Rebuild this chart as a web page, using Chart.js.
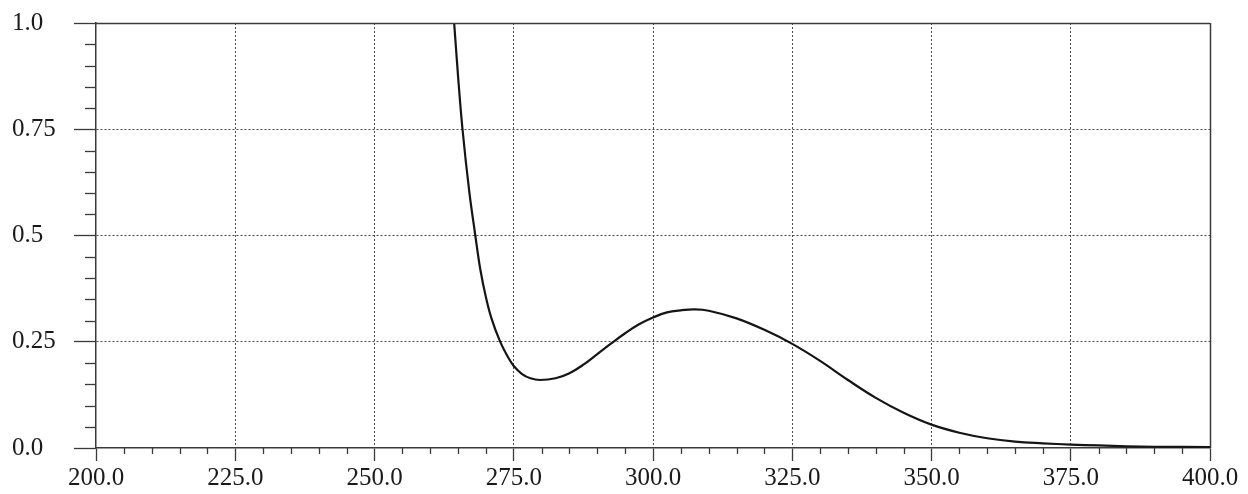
<!DOCTYPE html>
<html>
<head>
<meta charset="utf-8">
<script src="https://cdn.jsdelivr.net/npm/chart.js@4.4.1/dist/chart.umd.min.js"></script>
<style>
  html, body { margin: 0; padding: 0; background: #ffffff; }
  #wrap { width: 1248px; height: 494px; position: relative; }
</style>
</head>
<body>
<div id="wrap"><canvas id="c" width="1248" height="494"></canvas></div>
<script>
// Wavelength (nm) and absorbance
const wavelengths = [264.0, 264.3, 265.0, 265.8, 267.0, 268.1, 269.0, 270.0, 271.0, 272.5, 274.0, 275.0, 276.5, 278.0, 279.7, 282.5, 285.0, 287.5, 290.0, 292.5, 295.0, 297.5, 300.0, 302.5, 305.0, 307.5, 310.0, 315.0, 320.0, 325.0, 330.0, 335.0, 340.0, 345.0, 350.0, 355.0, 360.0, 365.0, 370.0, 375.0, 380.0, 385.0, 390.0, 400.0];
const absorbance  = [1.045, 1.00, 0.875, 0.75, 0.605, 0.50, 0.42, 0.355, 0.305, 0.252, 0.213, 0.193, 0.174, 0.164, 0.160, 0.164, 0.176, 0.196, 0.221, 0.246, 0.270, 0.291, 0.307, 0.319, 0.324, 0.326, 0.323, 0.305, 0.278, 0.245, 0.205, 0.160, 0.118, 0.083, 0.055, 0.036, 0.023, 0.015, 0.011, 0.008, 0.006, 0.004, 0.003, 0.002];

// Axis ticks
const xMajorValues = [200, 225, 250, 275, 300, 325, 350, 375, 400];
const xMajorLabels = ['200.0', '225.0', '250.0', '275.0', '300.0', '325.0', '350.0', '375.0', '400.0'];
const xMinorStep = 5;
const yMajorValues = [0, 0.25, 0.5, 0.75, 1.0];
const yMajorLabels = ['0.0', '0.25', '0.5', '0.75', '1.0'];
const yMinorStep = 0.05;

const xMin = 200, xMax = 400, yMin = 0, yMax = 1.0;

const FONT = { family: "'Liberation Serif', 'DejaVu Serif', serif", size: 25 };
const AXIS_COLOR = '#3a3a3a';
const GRID_COLOR = '#4a4a4a';

function near(a, b) { return Math.abs(a - b) < 1e-6; }
function isXMajor(v) { return xMajorValues.some(m => near(m, v)); }
function isYMajor(v) { return yMajorValues.some(m => near(m, v)); }

function buildTicks(min, max, step) {
  const n = Math.round((max - min) / step);
  const out = [];
  for (let i = 0; i <= n; i++) out.push(Math.round((min + i * step) * 1e6) / 1e6);
  return out;
}

const minorTicksPlugin = {
  id: 'minorTicks',
  afterDraw(chart) {
    const { ctx, chartArea, scales } = chart;
    const xs = scales.x, ys = scales.y;
    ctx.save();
    ctx.strokeStyle = AXIS_COLOR;
    ctx.lineWidth = 1.3;
    buildTicks(xMin, xMax, xMinorStep).forEach(v => {
      if (isXMajor(v)) return;
      const px = Math.round(xs.getPixelForValue(v)) + 0.5;
      ctx.beginPath();
      ctx.moveTo(px, chartArea.bottom);
      ctx.lineTo(px, chartArea.bottom + 6);
      ctx.stroke();
    });
    buildTicks(yMin, yMax, yMinorStep).forEach(v => {
      if (isYMajor(v)) return;
      const py = Math.round(ys.getPixelForValue(v)) + 0.5;
      ctx.beginPath();
      ctx.moveTo(chartArea.left - 11, py);
      ctx.lineTo(chartArea.left, py);
      ctx.stroke();
    });
    ctx.lineWidth = 1.5;
    ctx.beginPath();
    ctx.moveTo(chartArea.left, Math.round(chartArea.top) + 0.5);
    ctx.lineTo(chartArea.right, Math.round(chartArea.top) + 0.5);
    ctx.moveTo(Math.round(chartArea.right) + 0.5, chartArea.top);
    ctx.lineTo(Math.round(chartArea.right) + 0.5, chartArea.bottom);
    ctx.stroke();
    ctx.restore();
  }
};

const points = wavelengths.map((w, i) => ({ x: w, y: absorbance[i] }));

new Chart(document.getElementById('c'), {
  type: 'line',
  data: {
    datasets: [{
      data: points,
      borderColor: '#151515',
      borderWidth: 2.2,
      pointRadius: 0,
      fill: false,
      tension: 0.4
    }]
  },
  options: {
    responsive: false,
    animation: false,
    devicePixelRatio: 1,
    layout: { padding: { left: 12, right: 38, top: 23, bottom: 0 } },
    plugins: { legend: { display: false }, tooltip: { enabled: false }, title: { display: false } },
    scales: {
      x: {
        type: 'linear',
        min: xMin, max: xMax,
        afterBuildTicks(scale) { scale.ticks = buildTicks(xMin, xMax, xMinorStep).map(v => ({ value: v })); },
        afterFit(scale) { scale.height = 46; },
        ticks: {
          autoSkip: false,
          maxRotation: 0,
          padding: 2,
          color: '#1a1a1a',
          font: FONT,
          callback(v) { const i = xMajorValues.findIndex(m => near(m, v)); return i >= 0 ? xMajorLabels[i] : ''; }
        },
        grid: {
          drawTicks: true,
          tickLength: 13,
          lineWidth: 1,
          color(ctx) { const v = ctx.tick && ctx.tick.value; return (isXMajor(v) && !near(v, xMin) && !near(v, xMax)) ? GRID_COLOR : 'rgba(0,0,0,0)'; },
          tickColor(ctx) { const v = ctx.tick && ctx.tick.value; return isXMajor(v) ? AXIS_COLOR : 'rgba(0,0,0,0)'; },
          tickWidth: 1.3,
          tickBorderDash: []
        },
        border: { display: true, color: AXIS_COLOR, width: 1.5, dash: [2, 2] }
      },
      y: {
        type: 'linear',
        min: yMin, max: yMax,
        afterBuildTicks(scale) { scale.ticks = buildTicks(yMin, yMax, yMinorStep).map(v => ({ value: v })); },
        afterFit(scale) { scale.width = 84; },
        ticks: {
          autoSkip: false,
          crossAlign: 'far',
          padding: 4,
          color: '#1a1a1a',
          font: FONT,
          callback(v) { const i = yMajorValues.findIndex(m => near(m, v)); return i >= 0 ? yMajorLabels[i] : ''; }
        },
        grid: {
          drawTicks: true,
          tickLength: 22,
          lineWidth: 1,
          color(ctx) { const v = ctx.tick && ctx.tick.value; return (isYMajor(v) && !near(v, yMin) && !near(v, yMax)) ? GRID_COLOR : 'rgba(0,0,0,0)'; },
          tickColor(ctx) { const v = ctx.tick && ctx.tick.value; return isYMajor(v) ? AXIS_COLOR : 'rgba(0,0,0,0)'; },
          tickWidth: 1.3,
          tickBorderDash: []
        },
        border: { display: true, color: AXIS_COLOR, width: 1.5, dash: [2, 2] }
      }
    }
  },
  plugins: [minorTicksPlugin]
});
</script>
</body>
</html>
